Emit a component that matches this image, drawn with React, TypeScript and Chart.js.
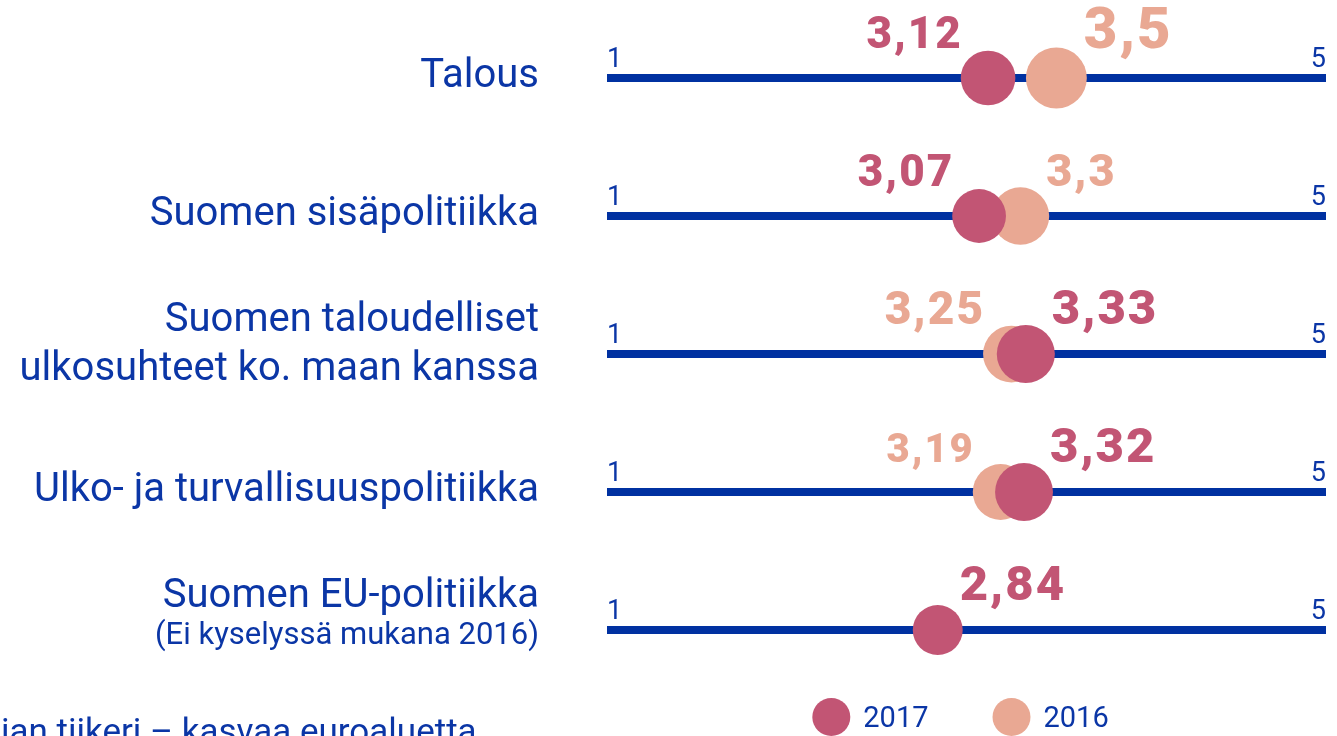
import React, { useEffect, useRef } from "react";
import { Chart, registerables } from "chart.js";

Chart.register(...registerables);

// ---- data ----
const categories: string[][] = [
  ["Talous"],
  ["Suomen sisäpolitiikka"],
  ["Suomen taloudelliset", "ulkosuhteet ko. maan kanssa"],
  ["Ulko- ja turvallisuuspolitiikka"],
  ["Suomen EU-politiikka"],
];
const categoryNotes = ["", "", "", "", "(Ei kyselyssä mukana 2016)"];
const seriesNames = ["2017", "2016"];
const values2017: (number | null)[] = [3.12, 3.07, 3.33, 3.32, 2.84];
const values2016: (number | null)[] = [3.5, 3.3, 3.25, 3.19, null];
const scaleMin = 1;
const scaleMax = 5;
const scaleEndLabels = ["1", "5"];
const footerText = "Baltian tiikeri – kasvaa euroaluetta";
const footerHiddenPrefix = "Balt";

// ---- styles ----
const LINE_BLUE = "#0031a1";
const TEXT_BLUE = "#0b36a6";
const PINK = "#c25574";
const SALMON = "#e9a893";
const FONT = "Roboto, 'Noto Sans', sans-serif";

const radiusFor = (v: number) => 8.3 * v + 1.4;
const fmt = (v: number) => String(v).replace(".", ",");

export default function App() {
  const ref = useRef<HTMLCanvasElement | null>(null);

  useEffect(() => {
    if (!ref.current) return;
    const seriesValues = [values2017, values2016];
    const seriesColors = [PINK, SALMON];
    const valueLabelPx = [
      [44, 44, 49, 49, 49],
      [58, 45, 46, 40, 40],
    ];

    const trackSets = categories.map((_, i) => ({
      label: "track" + i,
      data: [
        { x: scaleMin, y: i },
        { x: scaleMax, y: i },
      ],
      showLine: true,
      borderColor: LINE_BLUE,
      borderWidth: 8,
      borderCapStyle: "butt" as const,
      pointRadius: 0,
      order: 3,
      clip: false as const,
    }));

    const pointSets = seriesValues.map((vals, s) => ({
      label: seriesNames[s],
      data: vals.flatMap((v, i) => (v == null ? [] : [{ x: v, y: i }])),
      backgroundColor: seriesColors[s],
      borderWidth: 0,
      pointRadius: (ctx: any) => radiusFor(ctx.raw ? ctx.raw.x : 3),
      pointHoverRadius: (ctx: any) => radiusFor(ctx.raw ? ctx.raw.x : 3),
      order: s + 1,
      clip: false as const,
    }));

    const overlay = {
      id: "overlay",
      afterDatasetsDraw(chart: any) {
        const { ctx, chartArea, scales } = chart;
        const xs = scales.x;
        const ys = scales.y;
        ctx.save();

        // row labels + end labels
        categories.forEach((lines, i) => {
          const cy = ys.getPixelForValue(i);
          ctx.fillStyle = TEXT_BLUE;
          ctx.textAlign = "right";
          ctx.textBaseline = "alphabetic";
          ctx.font = `40px ${FONT}`;
          const note = categoryNotes[i];
          const labelRight = chartArea.left - 68;
          if (note) {
            ctx.fillText(lines[0], labelRight, cy - 23);
            ctx.font = `31px ${FONT}`;
            ctx.fillText(note, labelRight, cy + 14);
          } else if (lines.length === 1) {
            ctx.fillText(lines[0], labelRight, cy + 9);
          } else {
            lines.forEach((ln, k) => ctx.fillText(ln, labelRight, cy - 23 + k * 49));
          }

          ctx.font = `27px ${FONT}`;
          ctx.textAlign = "left";
          ctx.fillText(scaleEndLabels[0], xs.getPixelForValue(scaleMin), cy - 11);
          ctx.textAlign = "right";
          ctx.fillText(scaleEndLabels[1], xs.getPixelForValue(scaleMax), cy - 11);

          // value labels
          const pts: { v: number; s: number; px: number }[] = [];
          seriesValues.forEach((vals, s) => {
            const v = vals[i];
            if (v != null) pts.push({ v, s, px: xs.getPixelForValue(v) });
          });
          pts.sort((a, b) => a.px - b.px);
          pts.forEach((p, k) => {
            const r = radiusFor(p.v);
            const onLeft = pts.length > 1 && k === 0;
            ctx.font = `900 ${valueLabelPx[p.s][i]}px ${FONT}`;
            (ctx as any).letterSpacing = "2px";
            ctx.fillStyle = seriesColors[p.s];
            ctx.textAlign = onLeft ? "right" : "left";
            ctx.fillText(fmt(p.v), onLeft ? p.px - r + 2 : p.px + r - 3, cy - 30);
            (ctx as any).letterSpacing = "0px";
          });
        });

        // legend
        const lr = 19;
        const gap = 13;
        const spacing = 64;
        ctx.font = `29px ${FONT}`;
        const widths = seriesNames.map((n) => 2 * lr + gap + ctx.measureText(n).width);
        const total = widths.reduce((a, b) => a + b, 0) + spacing * (seriesNames.length - 1);
        let lx = (chartArea.left + chartArea.right) / 2 - 6 - total / 2;
        const ly = chartArea.bottom + 18;
        seriesNames.forEach((n, s) => {
          ctx.fillStyle = seriesColors[s];
          ctx.beginPath();
          ctx.arc(lx + lr, ly, lr, 0, Math.PI * 2);
          ctx.fill();
          ctx.fillStyle = TEXT_BLUE;
          ctx.textAlign = "left";
          ctx.textBaseline = "alphabetic";
          ctx.fillText(n, lx + 2 * lr + gap, ly + 10);
          lx += widths[s] + spacing;
        });

        // footer heading (cut off at the page edge)
        ctx.font = `35px ${FONT}`;
        ctx.fillStyle = TEXT_BLUE;
        ctx.textAlign = "left";
        const pre = ctx.measureText(footerHiddenPrefix).width;
        ctx.fillText(footerText, 1 - pre, chart.height + 7);

        ctx.restore();
      },
    };

    const chart = new Chart(ref.current, {
      type: "scatter",
      data: { datasets: [...pointSets, ...trackSets] as any },
      options: {
        animation: false,
        responsive: false,
        maintainAspectRatio: false,
        events: [],
        layout: { autoPadding: false, padding: { left: 607, right: 11, top: 9, bottom: 37 } },
        plugins: { legend: { display: false }, tooltip: { enabled: false } },
        scales: {
          x: { type: "linear", min: scaleMin, max: scaleMax, display: false },
          y: { type: "linear", min: -0.5, max: categories.length - 0.5, reverse: true, display: false },
        },
      },
      plugins: [overlay],
    });
    return () => chart.destroy();
  }, []);

  return (
    <div style={{ position: "absolute", left: 0, top: 0, width: 1337, height: 736, background: "#fff", overflow: "hidden" }}>
      <canvas ref={ref} width={1337} height={736} style={{ display: "block" }} />
    </div>
  );
}
